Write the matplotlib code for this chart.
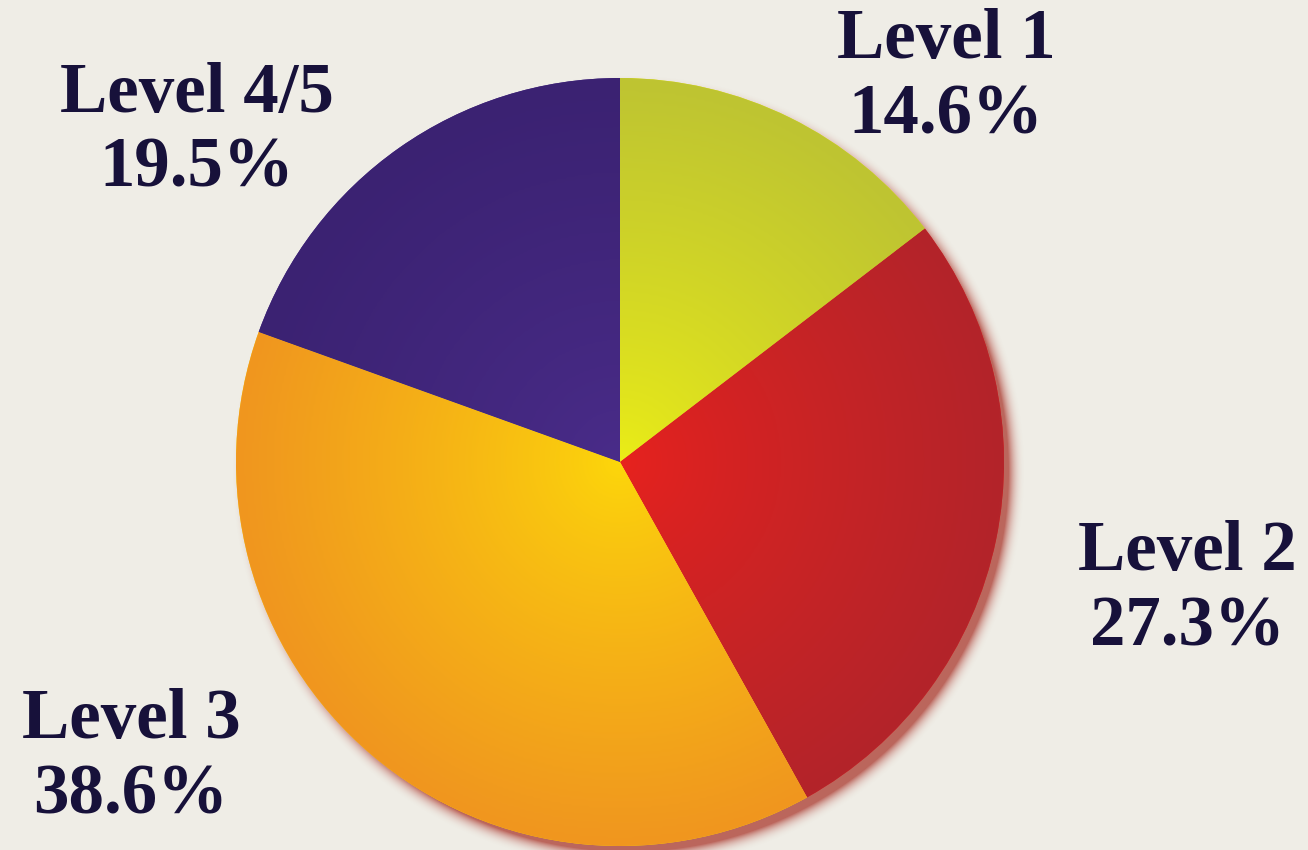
import numpy as np
import matplotlib
matplotlib.use("Agg")
import matplotlib.pyplot as plt
from matplotlib.colors import LinearSegmentedColormap

labels = ["Level 1", "Level 2", "Level 3", "Level 4/5"]
values = [14.6, 27.3, 38.6, 19.5]
pct_text = ["14.6%", "27.3%", "38.6%", "19.5%"]
inner_colors = ["#ecee16", "#e8221e", "#fdd80a", "#4a2c8a"]
outer_colors = ["#bec432", "#b3242a", "#f0961f", "#3b2272"]

W, H = 1308, 850
fig = plt.figure(figsize=(W / 100, H / 100), dpi=100)
fig.patch.set_facecolor("#efede6")
ax = fig.add_axes([0, 0, 1, 1])
ax.set_xlim(0, W)
ax.set_ylim(0, H)
ax.set_aspect("equal")
ax.axis("off")

cx, cy, R = 620, 388, 384

# soft shadow / glow to lower-right
yy, xx = np.mgrid[0:H, 0:W]
sx, sy = cx + 8, cy - 10
d = np.sqrt((xx - sx) ** 2 + (yy - sy) ** 2) - R
alpha = np.clip(1 - (d + 4) / 18.0, 0, 1) ** 2.5 * 0.8
alpha[d < -40] = 0
shadow = np.zeros((H, W, 4))
shadow[..., 0] = 0.69
shadow[..., 1] = 0.27
shadow[..., 2] = 0.23
shadow[..., 3] = np.clip(alpha, 0, 0.8)
ax.imshow(shadow, extent=(0, W, 0, H), origin="lower", zorder=1, interpolation="bilinear")

wedges, _ = ax.pie(values, startangle=90, counterclock=False, center=(cx, cy),
                   radius=R, colors=inner_colors, frame=True,
                   wedgeprops=dict(linewidth=0, zorder=2))
ax.set_xlim(0, W)
ax.set_ylim(0, H)
ax.axis("off")

# radial gradient inside each wedge
n = 400
gy, gx = np.mgrid[-1:1:n * 1j, -1:1:n * 1j]
rr = np.clip(np.sqrt(gx ** 2 + gy ** 2), 0, 1)
for w, ci, co in zip(wedges, inner_colors, outer_colors):
    cmap = LinearSegmentedColormap.from_list("g", [ci, co])
    im = ax.imshow(rr ** 0.8, cmap=cmap, vmin=0, vmax=1,
                   extent=(cx - R, cx + R, cy - R, cy + R), origin="lower",
                   zorder=3, interpolation="bilinear")
    im.set_clip_path(w)

txt_color = "#17113a"
font = dict(family="Liberation Serif", weight="bold", size=51, color=txt_color, ha="center", va="baseline")
# positions in pixel coords (from top), converted
pos = {
    "Level 1": (946, 58, 133),
    "Level 2": (1187, 570, 645),
    "Level 3": (131, 738, 813),
    "Level 4/5": (197, 112, 186),
}
for lab, p in zip(labels, pct_text):
    x, y1, y2 = pos[lab]
    ax.text(x, H - y1, lab, zorder=5, **font)
    ax.text(x, H - y2, p, zorder=5, **font)

fig.savefig("out.png", dpi=100, facecolor=fig.get_facecolor())
